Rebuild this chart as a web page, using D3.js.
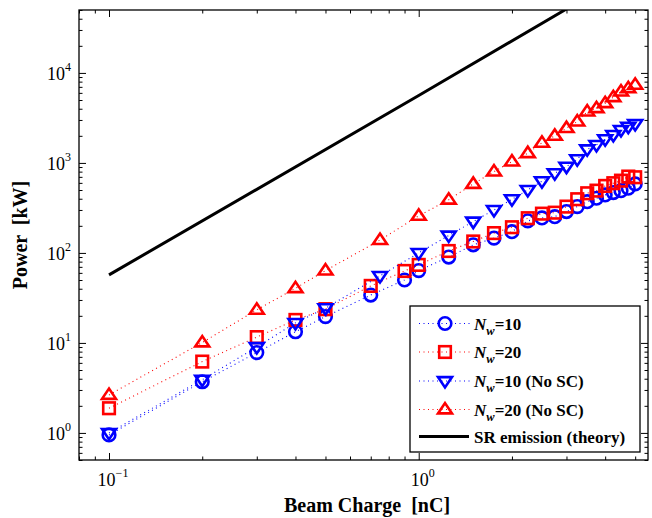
<!DOCTYPE html>
<html>
<head>
<meta charset="utf-8">
<script src="https://cdn.jsdelivr.net/npm/d3@7"></script>
<style>
  html, body { margin: 0; padding: 0; background: #fff; }
  svg { display: block; }
  svg text { font-family: "Liberation Serif", "Times New Roman", Times, "DejaVu Serif", serif; }
</style>
</head>
<body>
<svg id="chart" width="652" height="518"></svg>
<script>
// Beam charge (nC) for the runs with space charge
const chargeSC = [0.1, 0.2, 0.3, 0.4, 0.5, 0.7, 0.9, 1.0, 1.25, 1.5, 1.75, 2.0, 2.25, 2.5,
                  2.75, 3.0, 3.25, 3.5, 3.75, 4.0, 4.25, 4.5, 4.75, 5.0];
// Beam charge (nC) for the runs without space charge
const chargeNoSC = [0.1, 0.2, 0.3, 0.4, 0.5, 0.75, 1.0, 1.25, 1.5, 1.75, 2.0, 2.25, 2.5,
                    2.75, 3.0, 3.25, 3.5, 3.75, 4.0, 4.25, 4.5, 4.75, 5.0];

// Radiated power (kW)
const powerNw10 = [0.95, 3.7, 7.8, 13.3, 19.6, 34, 50, 63.6, 90, 123, 146, 172, 227, 245,
                   253, 288, 327, 371, 405, 441, 468, 492, 524, 584];
const powerNw20 = [1.88, 6.2, 11.6, 18, 23.7, 43, 63, 73.6, 105, 134, 166, 193, 243, 273,
                   280, 327, 395, 460, 492, 555, 595, 635, 705, 693];
const powerNw10NoSC = [1.0, 3.9, 9.0, 16.7, 24.3, 55.5, 100, 156, 223, 300, 395, 501, 627,
                       769, 910, 1099, 1419, 1585, 1834, 2046, 2326, 2530, 2712];
const powerNw20NoSC = [2.64, 10.1, 23.3, 40.5, 63.6, 139, 258, 390, 584, 800, 1033, 1282, 1670,
                       1995, 2432, 2877, 3715, 4047, 4600, 5370, 6200, 6760, 7360];

// Synchrotron-radiation estimate
const theoryCharge = [0.1, 1.0, 3.0];
const theoryPower = [57, 5600, 51300];

// Axis ticks
const xMajorTicks = [0.1, 1];
const xTickLabels = [["10", "\u22121"], ["10", "0"]];
const yMajorTicks = [1, 10, 100, 1000, 10000];
const yTickLabels = [["10", "0"], ["10", "1"], ["10", "2"], ["10", "3"], ["10", "4"]];

const legendLabels = [
  { sub: "w", rest: "=10" },
  { sub: "w", rest: "=20" },
  { sub: "w", rest: "=10 (No SC)" },
  { sub: "w", rest: "=20 (No SC)" },
  { plain: "SR emission (theory)" }
];

const BLUE = "#0000ff", RED = "#ff0000";

const svg = d3.select("#chart");
const L = 79, R = 648, T = 10, B = 460;

const x = d3.scaleLog().domain([0.08, 5.5]).range([L, R]);
const y = d3.scaleLog().domain([0.5, 50000]).range([B, T]);

function minorTicks(lo, hi) {
  const out = [];
  for (let e = Math.floor(Math.log10(lo)); e <= Math.ceil(Math.log10(hi)); e++) {
    for (let m = 2; m <= 9; m++) {
      const v = m * Math.pow(10, e);
      if (v >= lo && v <= hi) out.push(v);
    }
  }
  return out;
}
const xMinor = minorTicks(0.08, 5.5);
const yMinor = minorTicks(0.5, 50000);

svg.append("defs").append("clipPath").attr("id", "plotclip")
  .append("rect").attr("x", L).attr("y", T).attr("width", R - L).attr("height", B - T);

// Tick marks on all four sides, pointing inward
function drawTicks(axisFn, scale, tx, ty, values, size) {
  const g = svg.append("g").attr("transform", `translate(${tx},${ty})`)
    .call(axisFn(scale).tickValues(values).tickSize(-size).tickFormat(""));
  g.select(".domain").remove();
  g.selectAll(".tick line").attr("stroke", "#000").attr("stroke-width", 1);
}
drawTicks(d3.axisBottom, x, 0, B, xMajorTicks, 7);
drawTicks(d3.axisBottom, x, 0, B, xMinor, 3.5);
drawTicks(d3.axisTop, x, 0, T, xMajorTicks, 7);
drawTicks(d3.axisTop, x, 0, T, xMinor, 3.5);
drawTicks(d3.axisLeft, y, L, 0, yMajorTicks, 7);
drawTicks(d3.axisLeft, y, L, 0, yMinor, 3.5);
drawTicks(d3.axisRight, y, R, 0, yMajorTicks, 7);
drawTicks(d3.axisRight, y, R, 0, yMinor, 3.5);

// Tick labels with superscript exponents
xMajorTicks.forEach((v, i) => {
  const t = svg.append("text").attr("x", x(v) + 4).attr("y", 486)
    .attr("text-anchor", "middle").attr("font-size", 18);
  t.append("tspan").text(xTickLabels[i][0]);
  t.append("tspan").attr("dy", -9).attr("font-size", 12).text(xTickLabels[i][1]);
});
yMajorTicks.forEach((v, i) => {
  const t = svg.append("text").attr("x", 71).attr("y", y(v) + 7)
    .attr("text-anchor", "end").attr("font-size", 18);
  t.append("tspan").text(yTickLabels[i][0]);
  t.append("tspan").attr("dy", -9).attr("font-size", 12).text(yTickLabels[i][1]);
});

// Axis titles
svg.append("text").attr("x", 367).attr("y", 512).attr("text-anchor", "middle")
  .attr("font-size", 20).attr("font-weight", "bold").attr("xml:space", "preserve")
  .text("Beam Charge  [nC]");
svg.append("text").attr("transform", `translate(27,${(T + B) / 2}) rotate(-90)`)
  .attr("text-anchor", "middle").attr("font-size", 20).attr("font-weight", "bold")
  .attr("xml:space", "preserve").text("Power  [kW]");

// Markers
function marker(g, shape, color, cx, cy) {
  const sw = 2.6;
  if (shape === "circle") {
    g.append("circle").attr("cx", cx).attr("cy", cy).attr("r", 6.3)
      .attr("fill", "none").attr("stroke", color).attr("stroke-width", sw);
  } else if (shape === "square") {
    g.append("rect").attr("x", cx - 5.8).attr("y", cy - 5.8).attr("width", 11.6).attr("height", 11.6)
      .attr("fill", "none").attr("stroke", color).attr("stroke-width", sw);
  } else if (shape === "down") {
    const h = 6.5;
    g.append("path").attr("d", `M${cx - 7},${cy - h * 0.6}L${cx + 7},${cy - h * 0.6}L${cx},${cy + h}Z`)
      .attr("fill", "none").attr("stroke", color).attr("stroke-width", sw).attr("stroke-linejoin", "miter");
  } else if (shape === "up") {
    const h = 6.5;
    g.append("path").attr("d", `M${cx - 7},${cy + h * 0.6}L${cx + 7},${cy + h * 0.6}L${cx},${cy - h}Z`)
      .attr("fill", "none").attr("stroke", color).attr("stroke-width", sw).attr("stroke-linejoin", "miter");
  }
}

const seriesList = [
  { xs: chargeSC, ys: powerNw10, color: BLUE, shape: "circle" },
  { xs: chargeSC, ys: powerNw20, color: RED, shape: "square" },
  { xs: chargeNoSC, ys: powerNw10NoSC, color: BLUE, shape: "down" },
  { xs: chargeNoSC, ys: powerNw20NoSC, color: RED, shape: "up" }
];

const plot = svg.append("g").attr("clip-path", "url(#plotclip)");
const line = d3.line().x(d => x(d[0])).y(d => y(d[1]));

seriesList.forEach(s => {
  const pts = s.xs.map((q, i) => [q, s.ys[i]]);
  const g = plot.append("g");
  g.append("path").attr("d", line(pts)).attr("fill", "none").attr("stroke", s.color)
    .attr("stroke-width", 1.1).attr("stroke-dasharray", "1,3.5");
  pts.forEach(p => marker(g, s.shape, s.color, x(p[0]), y(p[1])));
});

plot.append("path")
  .attr("d", line(theoryCharge.map((q, i) => [q, theoryPower[i]])))
  .attr("fill", "none").attr("stroke", "#000").attr("stroke-width", 3);

// Axes box
svg.append("rect").attr("x", L).attr("y", T).attr("width", R - L).attr("height", B - T)
  .attr("fill", "none").attr("stroke", "#000").attr("stroke-width", 1.3);

// Legend
const lg = svg.append("g");
lg.append("rect").attr("x", 410).attr("y", 306).attr("width", 230).attr("height", 146)
  .attr("fill", "#fff").attr("stroke", "#000").attr("stroke-width", 1.3);
const rowY = [323.5, 352, 381, 409.5, 436.5];
const legendStyles = [
  { color: BLUE, shape: "circle" },
  { color: RED, shape: "square" },
  { color: BLUE, shape: "down" },
  { color: RED, shape: "up" },
  { color: "#000", shape: null }
];
legendLabels.forEach((lab, i) => {
  const st = legendStyles[i];
  const yy = rowY[i];
  if (st.shape) {
    lg.append("line").attr("x1", 419).attr("x2", 470).attr("y1", yy).attr("y2", yy)
      .attr("stroke", st.color).attr("stroke-width", 1.1).attr("stroke-dasharray", "1,3.5");
    marker(lg, st.shape, st.color, 445, yy);
  } else {
    lg.append("line").attr("x1", 419).attr("x2", 469).attr("y1", yy).attr("y2", yy)
      .attr("stroke", "#000").attr("stroke-width", 3);
  }
  const t = lg.append("text").attr("x", 474).attr("y", yy + 6)
    .attr("font-size", 17).attr("font-weight", "bold");
  if (lab.plain) {
    t.text(lab.plain);
  } else {
    t.append("tspan").attr("font-style", "italic").text("N");
    t.append("tspan").attr("font-style", "italic").attr("font-size", 12.5).attr("dy", 5).text(lab.sub);
    t.append("tspan").attr("dy", -5).text(lab.rest);
  }
});
</script>
</body>
</html>
